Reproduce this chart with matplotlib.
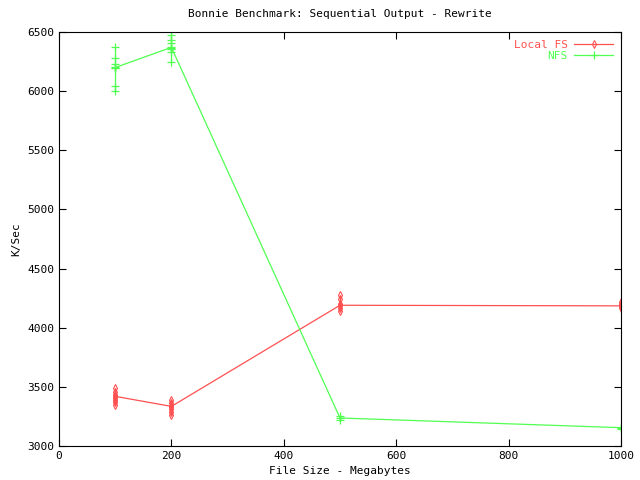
import matplotlib
matplotlib.use('Agg')
import matplotlib.pyplot as plt
import numpy as np

sizes = [100, 200, 500, 1000]

# individual runs
local_runs = {
    100: [3490, 3460, 3430, 3410, 3390, 3370, 3350],
    200: [3390, 3360, 3330, 3310, 3290, 3260],
    500: [4280, 4240, 4200, 4190, 4170, 4140],
    1000: [4220, 4200, 4180, 4170],
}
nfs_runs = {
    100: [6373, 6280, 6229, 6204, 6195, 6043, 6001],
    200: [6475, 6432, 6404, 6367, 6356, 6328, 6249],
    500: [3250, 3220],
    1000: [3160, 3145],
}
local_mean = [3420, 3335, 4190, 4185]
nfs_mean = [6200, 6370, 3237, 3155]

red = '#ff5050'
green = '#50ff50'
plt.rcParams['font.family'] = 'DejaVu Sans Mono'

fig = plt.figure(figsize=(6.4, 4.8), dpi=100)
ax = fig.add_axes([0.0922, 0.0708, 0.8781, 0.8625])

for x in sizes:
    # spread of runs at each size
    ax.vlines(x, min(local_runs[x]), max(local_runs[x]), color=red, lw=0.9)
    ax.vlines(x, min(nfs_runs[x]), max(nfs_runs[x]), color=green, lw=0.9)
    ax.plot([x] * len(local_runs[x]), local_runs[x], linestyle='none', marker='d',
            mfc='none', mec=red, ms=4, mew=0.8)
    ax.plot([x] * len(nfs_runs[x]), nfs_runs[x], linestyle='none', marker='+',
            color=green, ms=6, mew=0.9)

ax.plot(sizes, local_mean, color=red, lw=0.9, marker='d', mfc='none', ms=4,
        mew=0.8, label='Local FS')
ax.plot(sizes, nfs_mean, color=green, lw=0.9, marker='+', ms=6, mew=0.9, label='NFS')

ax.set_xlim(0, 1000)
ax.set_ylim(3000, 6500)
ax.set_xticks(np.arange(0, 1001, 200))
ax.set_yticks(np.arange(3000, 6501, 500))
ax.tick_params(direction='in', top=True, right=True, labelsize=8, length=5)
ax.set_xlabel('File Size - Megabytes', fontsize=8)
ax.set_ylabel('K/Sec', fontsize=8)
ax.set_title('Bonnie Benchmark: Sequential Output - Rewrite', fontsize=8, pad=11)

leg = ax.legend(loc='upper right', frameon=False, markerfirst=False, fontsize=8,
                labelcolor='linecolor', handlelength=3.5, borderaxespad=0.3,
                labelspacing=0.1, handletextpad=0.6)

fig.savefig('out.png', dpi=100)
